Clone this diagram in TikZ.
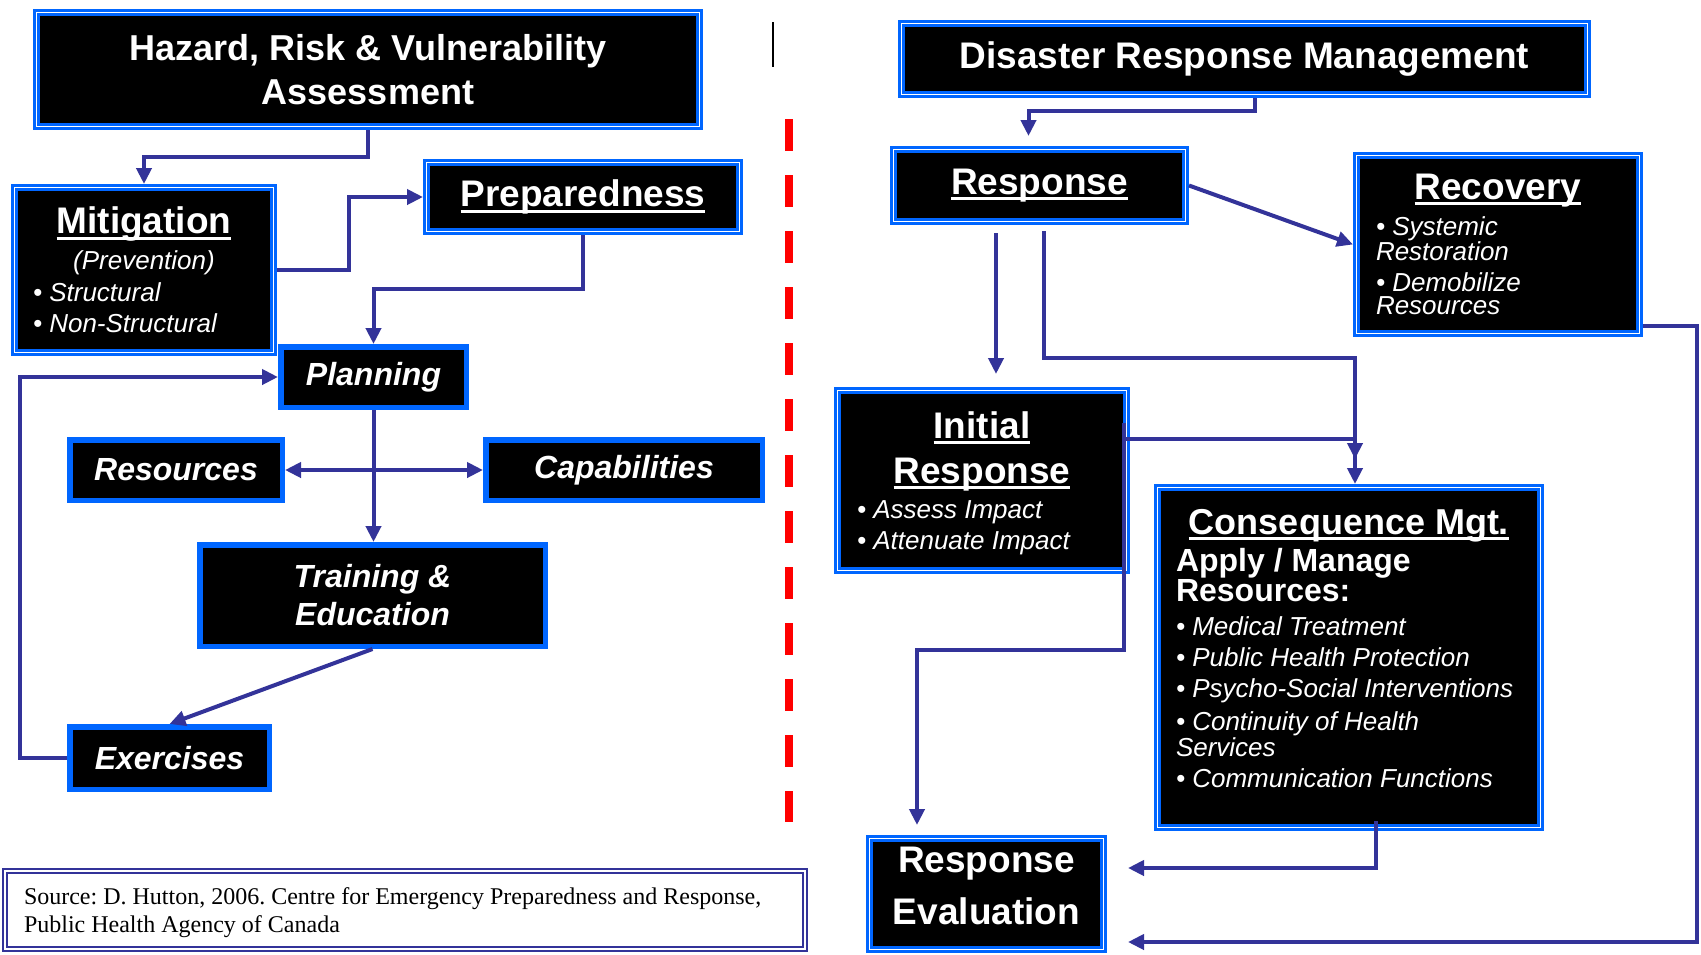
\documentclass[tikz,border=0pt]{standalone}
\usepackage{fontspec}
\usepackage{xcolor}
\usepackage{tikz}
\usetikzlibrary{arrows.meta}
\setmainfont{Liberation Sans}
\newfontfamily\srcserif{Liberation Serif}
\definecolor{framblue}{HTML}{0066FF}
\definecolor{linkblue}{HTML}{333399}
\definecolor{cutred}{HTML}{FF0000}
\setlength{\lineskiplimit}{-100pt}
\newcommand{\hdfont}{\fontsize{37}{44}\selectfont\bfseries}
\newcommand{\itfont}{\fontsize{26}{31}\selectfont\itshape}
\newcommand{\hdul}[1]{\leavevmode\setbox0\hbox{#1}\rlap{\rule[-6pt]{\wd0}{3pt}}\box0}

\begin{document}
\begin{tikzpicture}[
    x=1pt, y=-1pt,
    dbox/.style={fill=black, draw=framblue, line width=3pt, double=white, double distance=1.3pt, text=white, inner sep=0pt, outer sep=3.65pt,
        execute at begin node={\spaceskip=0pt\xspaceskip=0pt\frenchspacing}},
    sbox/.style={fill=black, draw=framblue, line width=5.5pt, text=white, inner sep=0pt, outer sep=2.75pt, align=center, font={\fontsize{32}{38}\selectfont\bfseries\itshape}},
    srcbox/.style={fill=white, draw=linkblue, line width=1.8pt, double=white, double distance=2.5pt, inner sep=0pt, outer sep=3pt,
        execute at begin node={\spaceskip=0pt\xspaceskip=0pt\frenchspacing}},
    conn/.style={draw=linkblue, line width=4pt, -{Triangle[length=16pt,width=15pt]}}
]
\useasboundingbox (0,0) rectangle (1701,954);

% Left half: preparedness cycle
\node[dbox, minimum width=662.7pt, minimum height=113.7pt, align=center, font={\fontsize{36}{44}\selectfont\bfseries}] (hrva) at (368,69.5) {Hazard, Risk \& Vulnerability\\Assessment};

\node[dbox, minimum width=258.7pt, minimum height=164.7pt, text width=222pt, align=flush left] (mitig) at (144,270) {%
    {\centering\hdfont\hdul{Mitigation}\par}\vspace{5pt}
    {\centering\itfont (Prevention)\par}\vspace{1pt}
    {\itfont • Structural\par • Non-Structural\par}};

\node[dbox, minimum width=312.7pt, minimum height=68.7pt, font=\hdfont] (prep) at (583,197) {\hdul{Preparedness}};

\node[sbox, minimum width=185.5pt, minimum height=60.5pt] (plan) at (373.5,377) {Planning};
\node[sbox, minimum width=212.5pt, minimum height=60.5pt] (res) at (176,470) {Resources};
\node[sbox, minimum width=276.5pt, minimum height=60.5pt] (cap) at (624,470) {Capabilities};
\node[sbox, minimum width=345.5pt, minimum height=101.5pt] (train) at (372.5,595.5) {Training \&\\Education};
\node[sbox, minimum width=199.5pt, minimum height=62.5pt] (exer) at (169.5,758) {Exercises};

\node[srcbox, minimum width=799.9pt, minimum height=77.9pt, text width=762pt, align=flush left, font={\srcserif\fontsize{24}{28}\selectfont}] (src) at (405,910) {\rule{0pt}{23pt}Source: D. Hutton, 2006. Centre for Emergency Preparedness and Response,\\Public Health Agency of Canada};

% Divider
\draw[black, line width=2pt] (773,22) -- (773,67);
\draw[cutred, line width=8pt, dash pattern=on 32pt off 24pt] (789,119) -- (789,822);

% Right half: response management
\node[dbox, minimum width=685.7pt, minimum height=70.7pt, font=\hdfont] (drm) at (1244.5,59) {Disaster Response Management};

\node[dbox, minimum width=291.7pt, minimum height=71.7pt, font=\hdfont] (resp) at (1039.5,185.5) {\hdul{Response}};

\node[dbox, minimum width=282.7pt, minimum height=177.7pt, text width=244pt, align=flush left] (recov) at (1498,244.5) {%
    {\centering\hdfont\hdul{Recovery}\par}\vspace{9pt}
    {\fontsize{26}{23}\selectfont\itshape • Systemic\\Restoration\par\vspace{8pt}
    • Demobilize\\Resources\par}};

\node[dbox, minimum width=288.7pt, minimum height=179.7pt, text width=250pt, align=flush left] (init) at (982,480.5) {%
    {\centering\fontsize{37}{45}\selectfont\bfseries\rule{0pt}{31.5pt}\hdul{Initial}\\\hdul{Response}\par}\vspace{4pt}
    {\itfont • Assess Impact\par • Attenuate Impact\par}};

\node[dbox, minimum width=382.7pt, minimum height=339.7pt, text width=346pt, align=flush left] (cons) at (1349,657.5) {%
    {\centering\fontsize{36}{42}\selectfont\bfseries\hdul{Consequence Mgt.}\par}\vspace{6pt}
    {\fontsize{32}{27}\selectfont\bfseries Apply / Manage\\Resources:\par}\vspace{3pt}
    {\itfont
    • Medical Treatment\par
    • Public Health Protection\par
    • Psycho-Social Interventions\par\vspace{8pt}
    {\baselineskip=23pt • Continuity of Health\\Services\par}
    • Communication Functions\rule[-19pt]{0pt}{0pt}\par}};

\node[dbox, minimum width=233.7pt, minimum height=110.7pt, align=center, font={\fontsize{37}{52}\selectfont\bfseries}] (eval) at (986.5,894) {Response\\Evaluation\rule[-17pt]{0pt}{0pt}};

% Free connector ends
\coordinate (respA) at (996,233);
\coordinate (initTop) at (996,374);
\coordinate (respB) at (1044,231);
\coordinate (initOut) at (1126,439);
\coordinate (consIn) at (1355,459);
\coordinate (initDrop) at (1124,423);
\coordinate (evalTop) at (917,825);
\coordinate (evalIn1) at (1128,868);
\coordinate (evalIn2) at (1128,942);

% Left connectors
\draw[conn] (hrva.south) -- ++(0,27) -| (mitig.north);
\draw[conn] (mitig.east) -- ++(72,0) |- (prep.west);
\draw[conn] (prep.south) -- ++(0,54) -| (plan.north);
\draw[conn] (plan.south) -- (plan.south |- train.north);
\draw[conn, {Triangle[length=16pt,width=15pt]}-{Triangle[length=16pt,width=15pt]}] (res.east) -- (cap.west);
\draw[conn] (train.south) -- (exer.north);
\draw[conn] (exer.west) -- ++(-47,0) |- (plan.west);

% Right connectors
\draw[conn] ([xshift=10pt]drm.south) -- ++(0,13) -| ([xshift=-11pt,yshift=10pt]resp.north);
\draw[conn] (resp.east) -- (recov.west);
\draw[conn] (respA) -- (initTop);
\draw[conn] (respB) -- ++(0,127) -| ([xshift=6pt]cons.north);
\draw[conn] (initOut) -| (consIn);
\draw[conn] (initDrop) -- ++(0,227) -| (evalTop);
\draw[conn] ([xshift=27pt,yshift=10pt]cons.south) |- (evalIn1);
\draw[conn] ([yshift=-81pt]recov.east) -- ++(54,0) |- (evalIn2);

\end{tikzpicture}
\end{document}
